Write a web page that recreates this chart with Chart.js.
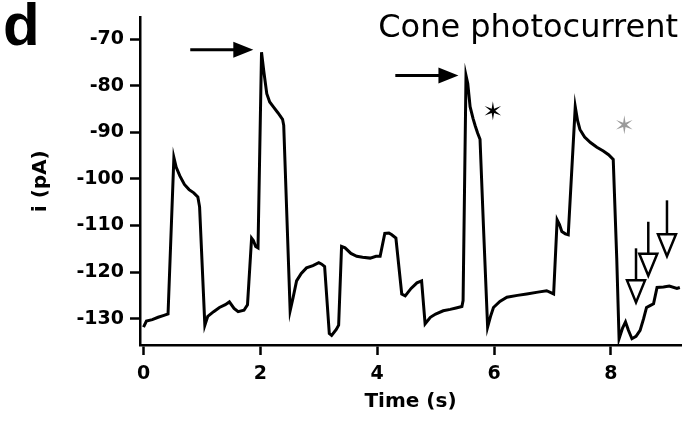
<!DOCTYPE html>
<html>
<head>
<meta charset="utf-8">
<style>
  html, body { margin: 0; padding: 0; background: #fff; }
  canvas { display: block; }
</style>
<script src="https://cdn.jsdelivr.net/npm/chart.js@4/dist/chart.umd.min.js"></script>
</head>
<body>
<canvas id="c" width="686" height="423"></canvas>
<script>
// ---- data ----
const timeS = [
  0.00, 0.05, 0.15, 0.25, 0.35, 0.42, 0.52, 0.56, 0.62, 0.70, 0.78, 0.86, 0.93, 0.96,
  1.05, 1.10, 1.20, 1.30, 1.40, 1.47, 1.55, 1.62, 1.72, 1.78, 1.85, 1.88, 1.92, 1.96,
  2.02, 2.06, 2.11, 2.16, 2.22, 2.30, 2.38, 2.40, 2.51, 2.56, 2.62, 2.70, 2.79, 2.90,
  3.00, 3.05, 3.10, 3.18, 3.22, 3.30, 3.34, 3.39, 3.45, 3.55, 3.65, 3.75, 3.88, 3.98,
  4.05, 4.13, 4.20, 4.25, 4.32, 4.42, 4.48, 4.58, 4.68, 4.76, 4.82, 4.91, 5.00, 5.13,
  5.25, 5.35, 5.45, 5.47, 5.52, 5.55, 5.59, 5.64, 5.68, 5.72, 5.76, 5.82, 5.89, 5.94,
  5.99, 6.10, 6.22, 6.40, 6.56, 6.75, 6.90, 7.02, 7.08, 7.12, 7.16, 7.22, 7.27, 7.39,
  7.43, 7.47, 7.55, 7.65, 7.76, 7.87, 7.96, 8.04, 8.10, 8.14, 8.20, 8.25, 8.30, 8.36,
  8.43, 8.50, 8.56, 8.61, 8.67, 8.73, 8.79, 8.90, 9.00, 9.13, 9.18
];
const currentPA = [
  -131.8, -130.5, -130.2, -129.7, -129.3, -129.0, -95.4, -97.5, -99.3, -101.2, -102.3, -103.0, -103.9, -106.0,
  -131.4, -129.5, -128.5, -127.6, -127.0, -126.4, -127.8, -128.5, -128.2, -127.0, -112.7, -113.2, -114.5, -114.8,
  -72.8, -77.0, -81.7, -83.5, -84.5, -85.8, -87.2, -88.5, -128.3, -125.5, -121.9, -120.3, -119.1, -118.6,
  -118.0, -118.3, -118.8, -133.2, -133.6, -132.3, -131.4, -114.5, -114.8, -116.0, -116.6, -116.8, -117.0, -116.6,
  -116.6, -111.7, -111.6, -112.0, -112.7, -124.7, -125.1, -123.5, -122.3, -121.9, -131.1, -129.7, -129.0, -128.3,
  -128.0, -127.7, -127.4, -126.1, -77.8, -79.5, -84.5, -87.0, -88.7, -90.2, -91.5, -110.6, -131.8, -129.5,
  -127.6, -126.3, -125.4, -125.0, -124.7, -124.3, -124.0, -124.7, -108.8, -109.8, -111.3, -111.8, -112.0, -84.5,
  -87.5, -89.4, -91.0, -92.2, -93.2, -94.0, -94.8, -95.8, -117.0, -134.3, -132.0, -130.7, -132.5, -134.3,
  -133.8, -132.5, -130.0, -127.6, -127.2, -126.8, -123.3, -123.2, -123.0, -123.5, -123.3
];
const xTickValues = [0, 2, 4, 6, 8];
const yTickValues = [-130, -120, -110, -100, -90, -80, -70];

// annotation anchors (data coordinates)
const rightArrows = [ { from: 0.80, to: 1.88, at: -72.3 }, { from: 4.31, to: 5.39, at: -77.8 } ];
const starMarks = [ { t: 5.98, v: -85.4, color: '#000000' }, { t: 8.23, v: -88.4, color: '#9a9a9a' } ];
const downArrows = [
  { t: 8.43, top: -114.9, tip: -126.5 },
  { t: 8.64, top: -109.2, tip: -120.8 },
  { t: 8.96, top: -104.6, tip: -116.6 }
];

const points = timeS.map((t, i) => ({ x: t, y: currentPA[i] }));

const FONT = 'DejaVu Sans';

const overlay = {
  id: 'overlay',
  afterDatasetsDraw(chart) {
    const ctx = chart.ctx;
    const xs = chart.scales.x, ys = chart.scales.y;
    ctx.save();
    ctx.strokeStyle = '#000'; ctx.fillStyle = '#000';
    rightArrows.forEach(a => {
      const x0 = xs.getPixelForValue(a.from), x1 = xs.getPixelForValue(a.to), y = ys.getPixelForValue(a.at);
      ctx.lineWidth = 3;
      ctx.beginPath(); ctx.moveTo(x0, y); ctx.lineTo(x1 - 18, y); ctx.stroke();
      ctx.beginPath(); ctx.moveTo(x1, y); ctx.lineTo(x1 - 20, y - 8); ctx.lineTo(x1 - 20, y + 8); ctx.closePath(); ctx.fill();
    });
    starMarks.forEach(s => {
      const cx = xs.getPixelForValue(s.t), cy = ys.getPixelForValue(s.v);
      const R = 9.5, r = 2.4;
      ctx.fillStyle = s.color;
      ctx.beginPath();
      for (let k = 0; k < 12; k++) {
        const ang = -Math.PI / 2 + k * Math.PI / 6;
        const rad = (k % 2 === 0) ? R : r;
        const px = cx + rad * Math.cos(ang), py = cy + rad * Math.sin(ang);
        if (k === 0) ctx.moveTo(px, py); else ctx.lineTo(px, py);
      }
      ctx.closePath(); ctx.fill();
    });
    ctx.strokeStyle = '#000'; ctx.fillStyle = '#fff'; ctx.lineWidth = 2.5;
    downArrows.forEach(a => {
      const x = xs.getPixelForValue(a.t), y0 = ys.getPixelForValue(a.top), yt = ys.getPixelForValue(a.tip);
      const h = 22, w = 9;
      ctx.beginPath(); ctx.moveTo(x, y0); ctx.lineTo(x, yt - h); ctx.stroke();
      ctx.beginPath(); ctx.moveTo(x - w, yt - h); ctx.lineTo(x + w, yt - h); ctx.lineTo(x, yt); ctx.closePath();
      ctx.fill(); ctx.stroke();
    });
    ctx.fillStyle = '#000';
    ctx.textBaseline = 'alphabetic';
    ctx.font = '32px "' + FONT + '"';
    ctx.textAlign = 'right';
    ctx.fillText('Cone photocurrent', 678, 37);
    ctx.font = 'bold 60px "Liberation Sans"';
    ctx.textAlign = 'left';
    ctx.fillText('d', 3, 45);
    ctx.restore();
  }
};

new Chart(document.getElementById('c'), {
  type: 'line',
  data: {
    datasets: [{
      data: points,
      borderColor: '#000',
      borderWidth: 3,
      pointRadius: 0,
      tension: 0,
      fill: false
    }]
  },
  options: {
    responsive: false,
    animation: false,
    devicePixelRatio: 1,
    layout: { padding: { top: 13, right: 5, left: 0, bottom: 0 } },
    plugins: { legend: { display: false }, tooltip: { enabled: false } },
    scales: {
      x: {
        type: 'linear',
        min: -0.06, max: 9.2,
        afterBuildTicks: s => { s.ticks = xTickValues.map(v => ({ value: v })); },
        afterFit: s => { s.height = 78; },
        border: { display: true, color: '#000', width: 2.5 },
        grid: { drawOnChartArea: false, drawTicks: true, tickLength: 10, tickWidth: 2.5, tickColor: '#000' },
        ticks: { color: '#000', padding: 8, font: { family: FONT, size: 19, weight: 'bold' }, callback: v => String(v), maxRotation: 0 },
        title: { display: true, text: 'Time (s)', color: '#000', font: { family: FONT, size: 20, weight: 'bold' }, padding: { top: 0, bottom: 9 } }
      },
      y: {
        type: 'linear',
        min: -135.65, max: -65.34,
        afterBuildTicks: s => { s.ticks = yTickValues.map(v => ({ value: v })); },
        afterFit: s => { s.width = 140; },
        border: { display: true, color: '#000', width: 2.5 },
        grid: { drawOnChartArea: false, drawTicks: true, tickLength: 10, tickWidth: 2.5, tickColor: '#000' },
        ticks: { color: '#000', padding: 6, font: { family: FONT, size: 19, weight: 'bold' }, callback: v => String(v) },
        title: { display: true, text: 'i (pA)', color: '#000', font: { family: FONT, size: 20, weight: 'bold' }, padding: { top: 29, bottom: 0 } }
      }
    }
  },
  plugins: [overlay]
});
</script>
</body>
</html>
